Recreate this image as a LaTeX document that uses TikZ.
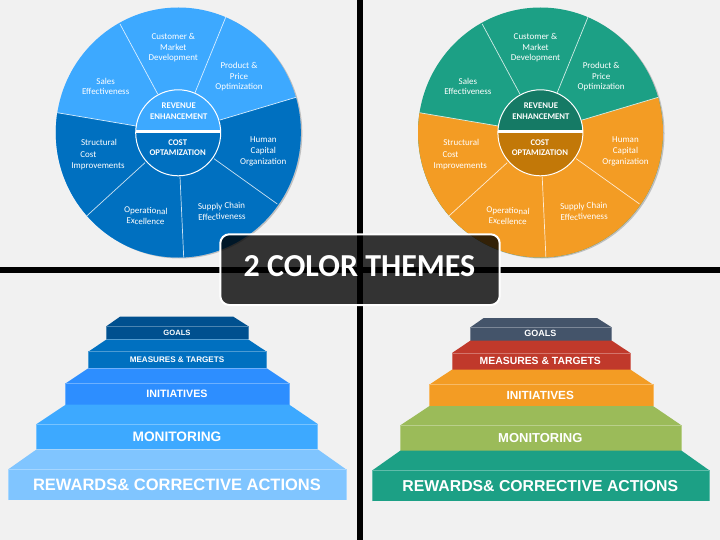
\documentclass[tikz,border=0pt]{standalone}
\usepackage{fontspec}
\setmainfont{Carlito}
\newfontfamily\stepfont{Liberation Sans}[BoldFont={Liberation Sans Bold}]
\definecolor{pagebg}{HTML}{F1F1F1}
\definecolor{bluelight}{HTML}{3DA9FF}
\definecolor{bluedark}{HTML}{0070C0}
\definecolor{teal}{HTML}{1CA085}
\definecolor{tealdark}{HTML}{157A65}
\definecolor{amber}{HTML}{F39C24}
\definecolor{amberdark}{HTML}{C27808}
\definecolor{sA}{HTML}{00508F}
\definecolor{sB}{HTML}{0070C0}
\definecolor{sC}{HTML}{2D8EFF}
\definecolor{sD}{HTML}{3DA9FF}
\definecolor{sE}{HTML}{80C5FF}
\definecolor{gA}{HTML}{44546A}
\definecolor{gB}{HTML}{C0392B}
\definecolor{gC}{HTML}{F39C24}
\definecolor{gD}{HTML}{9BBB59}
\definecolor{gE}{HTML}{1CA085}
\tikzset{
  pielabel/.style={text=white,font=\fontsize{9}{10.7}\selectfont,align=center,inner sep=0pt},
  hublabel/.style={text=white,font=\fontsize{8.7}{10.7}\selectfont\bfseries,align=center,inner sep=0pt},
  spoke/.style={draw=white!80!#1,line width=0.7pt},
  steplabel/.style={text=white,inner sep=0pt},
}
% wheel: {prefix}{x offset}{upper}{lower}{hub upper}{hub lower}
\newcommand\wheel[6]{%
\begin{scope}[shift={(#2,0)}]
  \fill[black!25] (179.8,133.5) ellipse [x radius=122.5pt,y radius=125pt];
  \begin{scope}
    \clip (178.3,132.5) ellipse [x radius=122.5pt,y radius=125pt];
    \fill[#3] (40,0) rectangle (320,270);
    \fill[#4] (136,126) -- (57.3,112.7) -- (40,110) -- (40,270) -- (320,270) -- (320,90) -- (296,97.3) -- (220,120) -- cycle;
  \end{scope}
  \draw[spoke=#3] (157.7,94) -- (120,24);
  \draw[spoke=#3] (195,92.7) -- (225.7,17.3);
  \draw[white!80!#3,line width=0.7pt] (136,126) -- (57.3,112.7);
  \draw[white!80!#3,line width=0.7pt] (220,120) -- (296,97.3);
  \draw[spoke=#4] (145,162.7) -- (86.7,216);
  \draw[spoke=#4] (180,176.7) -- (183.7,257.3);
  \draw[spoke=#4] (214,158.7) -- (277.3,204);
  \begin{scope}
    \clip (178.2,132.8) ellipse [x radius=42.5pt,y radius=43pt];
    \fill[#5] (130,85) rectangle (226,130);
    \fill[white] (130,130) rectangle (226,133.3);
    \fill[#6] (130,133.3) rectangle (226,180);
  \end{scope}
  \draw[white,line width=1pt] (178.2,132.8) ellipse [x radius=42.5pt,y radius=43pt];
  \node[pielabel] (#1cust) at (173.3,47.7) {Customer \&\\Market\\Development};
  \node[pielabel] (#1prod) at (239,76.7) {Product \&\\Price\\Optimization};
  \node[pielabel] (#1sale) at (105.7,86.3) {Sales\\Effectiveness};
  \node[hublabel] (#1reve) at (178.7,111.3) {REVENUE\\ENHANCEMENT};
  \node[hublabel] (#1cost) at (177.7,147.7) {COST\\OPTAMIZATION};
  \node[pielabel] (#1strA) at (99,142.7) {Structural};
  \node[pielabel] (#1strB) at (88.3,154.7) {Cost};
  \node[pielabel] (#1strC) at (98,166.7) {Improvements};
  \node[pielabel] (#1humA) at (263.3,139.7) {Human};
  \node[pielabel] (#1humB) at (263.3,151.3) {Capital};
  \node[pielabel] (#1humC) at (263.3,162.3) {Organization};
  \node[pielabel,rotate=-2] (#1oper) at (145.7,216) {Operational\\Excellence};
  \node[pielabel,rotate=2] (#1supp) at (221.7,211.3) {Supply Chain\\Effectiveness};
\end{scope}}
% stair step: {name}{x0}{x1}{front top}{front bottom}{top x0}{top x1}{top y}{colour}{font size}{label y}{centre x}{text}
\newcommand\stairstep[9]{%
  \def\stpname{#1}\def\stpa{#2}\def\stpb{#3}\def\stpc{#4}\def\stpd{#5}\def\stpe{#6}\def\stpf{#7}\def\stpg{#8}\def\stph{#9}\stairstepB}
\newcommand\stairstepB[4]{%
  \fill[\stph] (\stpa,\stpc) -- (\stpe,\stpg) -- (\stpf,\stpg) -- (\stpb,\stpc) -- cycle;
  \fill[\stph] (\stpa,\stpc) rectangle (\stpb,\stpd);
  \draw[\stph!70!white,line width=0.6pt] (\stpa,\stpd) -- (\stpa,\stpc) -- (\stpb,\stpc) -- (\stpb,\stpd);
  \node[steplabel,font=\stepfont\bfseries\fontsize{#1}{#1}\selectfont] (\stpname) at (#3,#2) {#4};}
\begin{document}
\begin{tikzpicture}[x=1pt,y=-1pt]
\useasboundingbox (0,0) rectangle (720,540);
\fill[pagebg] (0,0) rectangle (720,540);
\wheel{l}{0}{bluelight}{bluedark}{bluelight}{bluedark}
\wheel{r}{362.2}{teal}{amber}{tealdark}{amberdark}
% cross
\fill[black] (357,0) rectangle (363,540);
\fill[black] (0,266.5) rectangle (720,272.5);
% left stairs
\stairstep{la}{106.7}{248}{326}{339.3}{120}{233.3}{316.7}{sA}{7.6}{332.6}{177}{GOALS}
\stairstep{lb}{88.3}{266.7}{351.7}{368.3}{106.7}{248}{339.3}{sB}{8.1}{359.5}{177}{MEASURES \& TARGETS}
\stairstep{lc}{65.7}{289.3}{383.3}{404.7}{88.3}{266.7}{368.3}{sC}{10.7}{393.7}{177}{INITIATIVES}
\stairstep{ld}{36.7}{317.7}{424}{449.3}{65.7}{289.3}{404.7}{sD}{13.7}{436.7}{177}{MONITORING}
\stairstep{le}{8.3}{346}{469.3}{500}{36.7}{317.7}{449.3}{sE}{16.5}{484.7}{177}{REWARDS\& CORRECTIVE ACTIONS}
% right stairs
\stairstep{ra}{470.4}{611.7}{327.3}{340.6}{483.7}{597}{318}{gA}{9}{333.9}{540.3}{GOALS}
\stairstep{rb}{452}{630.4}{353}{369.6}{470.4}{611.7}{340.6}{gB}{10.4}{360.9}{540.3}{MEASURES \& TARGETS}
\stairstep{rc}{429.4}{653}{384.6}{406}{452}{630.4}{369.6}{gC}{11.8}{395}{540.3}{INITIATIVES}
\stairstep{rd}{400.4}{681.4}{425.3}{450.6}{429.4}{653}{406}{gD}{13}{438}{540.3}{MONITORING}
\stairstep{re}{372}{709.7}{470.6}{501.3}{400.4}{681.4}{450.6}{gE}{15.8}{486}{540.3}{REWARDS\& CORRECTIVE ACTIONS}
% banner
\draw[white,line width=2pt,fill=black,fill opacity=0.79,rounded corners=9pt] (220.3,234.3) rectangle (499.7,305);
\node[text=white,inner sep=0pt,font=\bfseries\fontsize{32}{32}\selectfont] (banner) at (359.5,266.5) {2 COLOR THEMES};
\end{tikzpicture}
\end{document}
